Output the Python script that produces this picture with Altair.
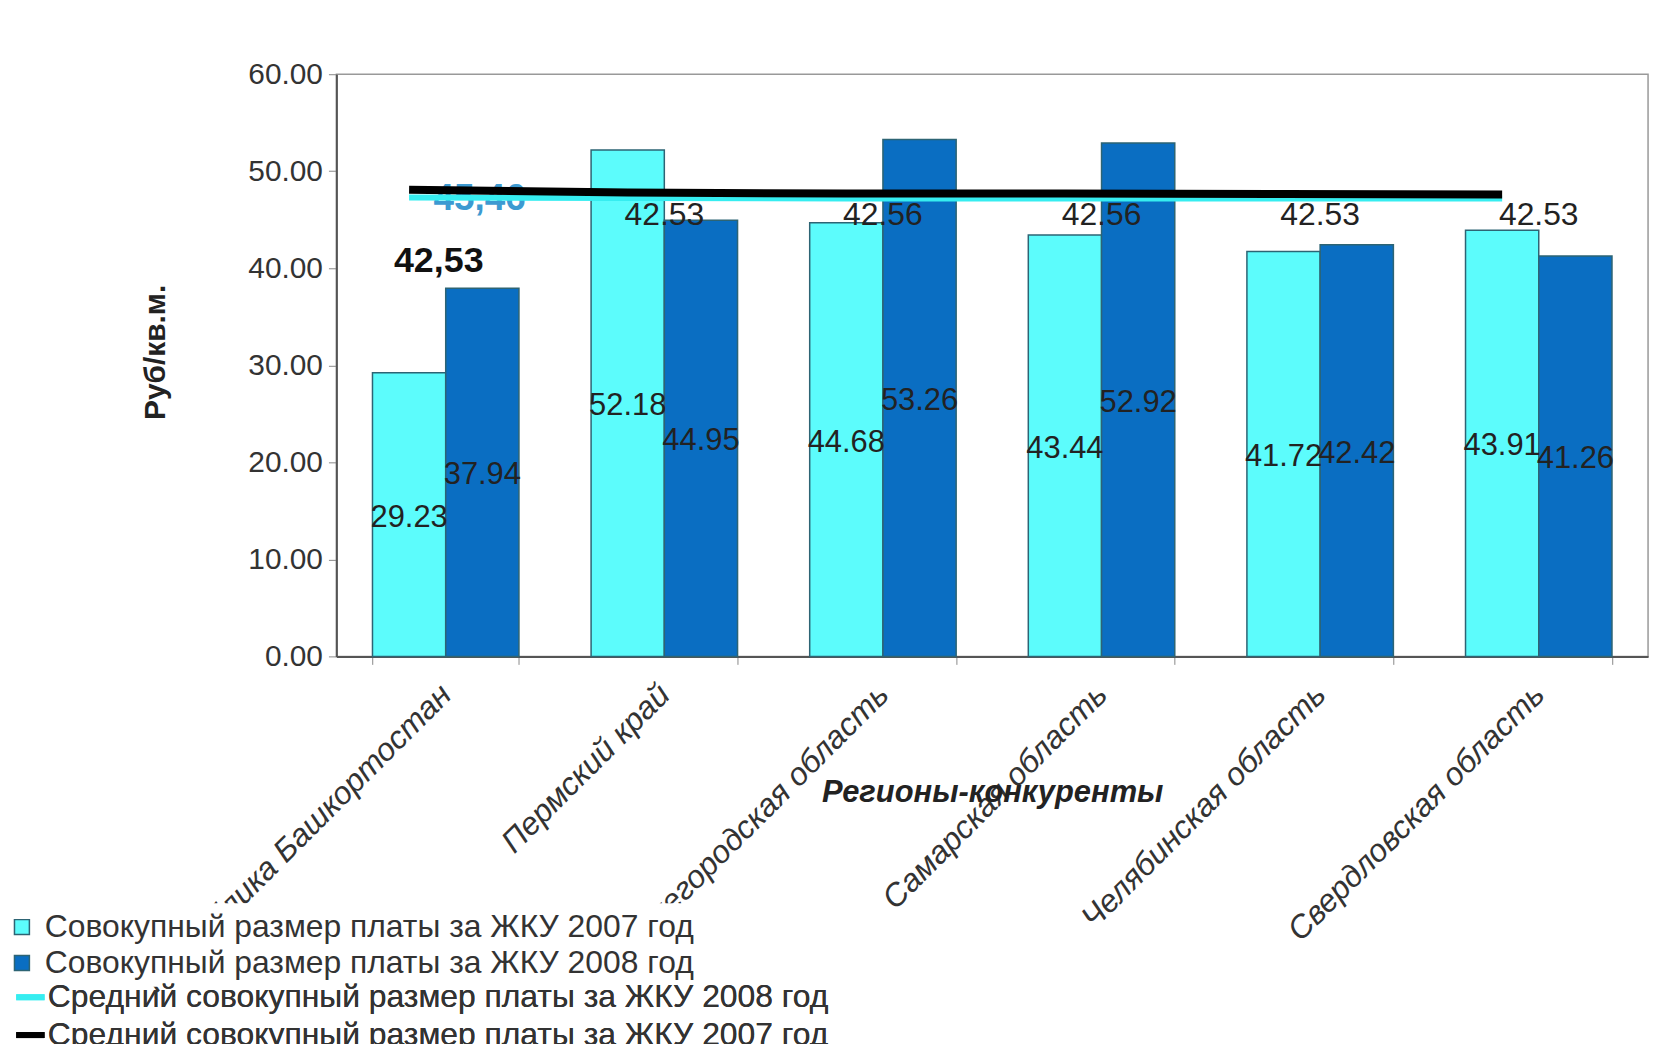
import altair as alt
import pandas as pd

F = "Liberation Sans"

regions = ["Республика Башкортостан", "Пермский край", "Нижегородская область",
           "Самарская область", "Челябинская область", "Свердловская область"]
fee_2007 = [29.23, 52.18, 44.68, 43.44, 41.72, 43.91]
fee_2008 = [37.94, 44.95, 53.26, 52.92, 42.42, 41.26]
years = ["2007", "2008"]
bar_series = ["Совокупный размер платы за ЖКУ 2007 год",
              "Совокупный размер платы за ЖКУ 2008 год"]
line_series = ["Средний совокупный размер платы за ЖКУ 2008 год",
               "Средний совокупный размер платы за ЖКУ 2007 год"]
# average lines as drawn in the picture (level)
avg_line_2008 = [47.3, 47.25, 47.2, 47.2, 47.2, 47.2]
avg_line_2007 = [48.1, 47.8, 47.7, 47.7, 47.65, 47.6]
# annotation texts above the bars
avg_texts = ["42,53", "42.53", "42.56", "42.56", "42.53", "42.53"]
avg_text_pos = [40.7, 45.5, 45.5, 45.5, 45.5, 45.5]
avg2008_text = ["45,46"]
avg2008_pos = [47.1]

rows = []
for i, r in enumerate(regions):
    rows.append({"region": r, "year": years[0], "series": bar_series[0], "value": fee_2007[i]})
    rows.append({"region": r, "year": years[1], "series": bar_series[1], "value": fee_2008[i]})
bars_df = pd.DataFrame(rows)

lrows = []
for i, r in enumerate(regions):
    lrows.append({"region": r, "year": years[0], "series": line_series[0], "value": avg_line_2008[i]})
    lrows.append({"region": r, "year": years[0], "series": line_series[1], "value": avg_line_2007[i]})
lines_df = pd.DataFrame(lrows)

ann_df = pd.DataFrame({"region": regions, "label": avg_texts, "pos": avg_text_pos})
ann2_df = pd.DataFrame({"region": regions[:1], "label": avg2008_text, "pos": avg2008_pos})

x_enc = alt.X(
    "region:N", sort=regions,
    scale=alt.Scale(paddingInner=0.33, paddingOuter=0.165),
    axis=alt.Axis(
        labelAngle=-45, labelAlign="right", labelBaseline="middle",
        labelFontSize=32, labelFontStyle="italic", labelFont=F, labelColor="#333",
        labelLimit=1000, labelPadding=25, tickBand="extent", tickSize=8,
        tickColor="#888", domainColor="#555", domainWidth=2,
        titleFontSize=31, titleFontStyle="italic", titleFontWeight="bold",
        titleFont=F, titleColor="#222", titleY=137, titleBaseline="middle",
    ),
    title="Регионы-конкуренты",
)


def y_enc(field):
    return alt.Y(
        f"{field}:Q",
        scale=alt.Scale(domain=[0, 60], nice=False),
        axis=alt.Axis(
            values=[0, 10, 20, 30, 40, 50, 60], format=".2f", grid=False,
            labelFontSize=30, labelFont=F, labelColor="#333", labelPadding=6,
            tickSize=8, tickColor="#888", domainColor="#555", domainWidth=2,
            titleFontSize=30, titleFontWeight="bold", titleFont=F, titleColor="#222",
            titleX=-182, titleY=279, titleAlign="center", titleBaseline="middle",
        ),
        title="Руб/кв.м.",
    )


xoff = alt.XOffset("year:N", sort=years, scale=alt.Scale(paddingInner=0, paddingOuter=0))

bars = alt.Chart(bars_df).mark_bar(stroke="#2d6474", strokeWidth=1.5).encode(
    x=x_enc, xOffset=xoff, y=y_enc("value"),
    color=alt.Color(
        "series:N",
        scale=alt.Scale(domain=bar_series, range=["#5CFCFC", "#0A6EC2"]),
        legend=alt.Legend(
            orient="none", legendX=-340, legendY=833, title=None,
            symbolType="square", symbolSize=225, symbolStrokeColor="#2d6474",
            symbolStrokeWidth=1.5, labelFontSize=32, labelFont=F, labelColor="#333",
            labelOffset=7, labelLimit=1200, rowPadding=4, padding=8,
            fillColor="white",
        ),
    ),
)

value_labels = alt.Chart(bars_df).transform_calculate(
    mid="datum.value / 2"
).mark_text(fontSize=31, font=F, color="#222", baseline="middle", dy=3).encode(
    x=x_enc, xOffset=xoff, y=y_enc("mid"),
    text=alt.Text("value:Q", format=".2f"),
)

ann_normal = alt.Chart(ann_df).transform_filter(
    alt.datum.region != regions[0]
).mark_text(fontSize=32, font=F, color="#222", baseline="middle").encode(
    x=x_enc, y=y_enc("pos"), text="label:N",
)

ann_bold = alt.Chart(ann_df).transform_filter(
    alt.datum.region == regions[0]
).mark_text(fontSize=36, font=F, fontWeight="bold", color="#111", baseline="middle", dx=-7).encode(
    x=x_enc, y=y_enc("pos"), text="label:N",
)

ann_cyan = alt.Chart(ann2_df).mark_text(
    fontSize=37, font=F, fontWeight="bold", color="#3D9AD1", baseline="middle", dx=34
).encode(
    x=x_enc, y=y_enc("pos"), text="label:N",
)

stroke_enc = alt.Stroke(
    "series:N",
    scale=alt.Scale(domain=line_series, range=["#36EDF0", "#000000"]),
    legend=alt.Legend(
        orient="none", legendX=-333, legendY=902, title=None,
        symbolType="stroke", symbolSize=812, symbolStrokeWidth=6,
        labelFontSize=32, labelFont=F, labelColor="#333", labelOffset=0,
        labelLimit=1200, rowPadding=4, padding=8,
    ),
)

line_cyan = alt.Chart(lines_df).transform_filter(
    alt.datum.series == line_series[0]
).mark_line(strokeWidth=6).encode(
    x=x_enc, xOffset=xoff, y=y_enc("value"), stroke=stroke_enc,
)

line_black = alt.Chart(lines_df).transform_filter(
    alt.datum.series == line_series[1]
).mark_line(strokeWidth=8).encode(
    x=x_enc, xOffset=xoff, y=y_enc("value"), stroke=stroke_enc,
)

chart = alt.layer(
    bars, value_labels, ann_normal, ann_cyan, line_cyan, line_black, ann_bold
).resolve_scale(color="independent", stroke="independent").properties(
    width=1318, height=585,
    padding={"left": 330, "top": 64, "right": 12, "bottom": 400},
    autosize=alt.AutoSizeParams(type="none"),
    background="white",
).configure_view(stroke="#999", strokeWidth=1.5)

chart.save("out.html", embed_options={"renderer": "svg", "actions": False})
